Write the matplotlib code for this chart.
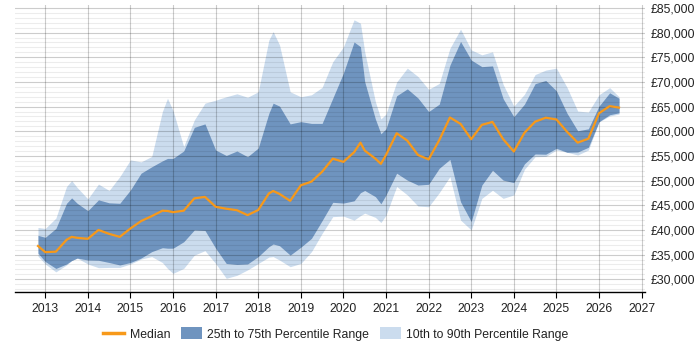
import matplotlib
matplotlib.use("Agg")
import matplotlib.pyplot as plt
from matplotlib.lines import Line2D
from matplotlib.patches import Patch
from matplotlib.ticker import MultipleLocator, FuncFormatter

plt.rcParams['font.family'] = ['Liberation Sans', 'DejaVu Sans']

years = [2012.83, 2013.0, 2013.25, 2013.5, 2013.62, 2013.75, 2014.0, 2014.25, 2014.5, 2014.75,
         2015.0, 2015.25, 2015.5, 2015.75, 2015.87, 2016.0, 2016.25, 2016.5, 2016.75,
         2017.0, 2017.25, 2017.5, 2017.75, 2018.0, 2018.25, 2018.35, 2018.5, 2018.75,
         2019.0, 2019.25, 2019.5, 2019.75, 2020.0, 2020.25, 2020.4, 2020.5, 2020.75, 2020.88,
         2021.0, 2021.25, 2021.5, 2021.75, 2022.0, 2022.25, 2022.5, 2022.75,
         2023.0, 2023.25, 2023.5, 2023.75, 2024.0, 2024.25, 2024.5, 2024.75,
         2025.0, 2025.25, 2025.5, 2025.75, 2026.0, 2026.25, 2026.47]

p90 = [40.5, 40.3, 42.4, 48.8, 50.0, 48.6, 46.3, 49.3, 48.0, 50.8,
       54.2, 53.8, 54.9, 64.0, 66.7, 64.2, 56.9, 62.3, 65.7,
       66.3, 67.0, 67.6, 66.9, 68.0, 78.5, 80.2, 77.5, 68.0,
       67.0, 67.4, 68.9, 74.1, 77.1, 82.6, 81.9, 76.1, 66.0, 62.5,
       63.5, 70.0, 72.8, 71.1, 68.5, 69.7, 76.8, 80.7,
       76.5, 75.5, 76.1, 69.5, 65.1, 67.5, 71.5, 72.4,
       72.8, 68.9, 64.1, 63.9, 67.4, 68.85, 67.0]

p75 = [38.9, 38.5, 40.3, 45.4, 46.5, 45.4, 43.9, 46.1, 45.5, 45.4,
       48.1, 51.5, 52.8, 54.0, 54.5, 54.5, 56.0, 60.8, 61.5,
       56.2, 55.1, 56.0, 54.85, 56.6, 63.65, 65.7, 65.1, 61.5,
       61.95, 61.6, 61.6, 66.7, 71.8, 78.1, 77.15, 70.05, 62.5, 59.5,
       60.5, 67.2, 68.6, 66.75, 64.0, 65.5, 73.4, 78.2,
       74.45, 73.1, 73.25, 66.6, 62.95, 65.5, 69.65, 70.3,
       68.2, 63.65, 60.1, 60.5, 65.1, 67.8, 66.7]

median = [36.75, 35.5, 35.6, 38.0, 38.6, 38.4, 38.2, 40.0, 39.2, 38.6,
          40.3, 41.8, 42.8, 43.9, 43.85, 43.6, 43.9, 46.4, 46.7,
          44.7, 44.3, 44.0, 43.0, 44.05, 47.4, 47.9, 47.3, 45.9,
          49.05, 49.8, 51.8, 54.45, 53.8, 55.75, 57.7, 56.1, 54.45, 53.4,
          55.2, 59.6, 58.1, 55.2, 54.3, 58.2, 62.8, 61.5,
          58.4, 61.3, 61.9, 58.4, 55.9, 59.7, 61.95, 62.75,
          62.4, 59.9, 57.7, 58.5, 63.65, 65.1, 64.8]

p25 = [35.3, 33.6, 32.2, 33.1, 33.8, 34.3, 33.9, 33.85, 33.4, 32.9,
       33.4, 34.3, 35.6, 36.4, 36.3, 36.3, 37.6, 40.0, 39.9,
       36.3, 33.2, 33.0, 33.1, 34.6, 36.6, 37.15, 36.8, 34.9,
       36.5, 38.3, 41.9, 45.6, 45.45, 45.9, 47.55, 48.0, 46.75, 45.3,
       47.1, 51.5, 50.1, 49.1, 49.25, 52.5, 54.3, 45.7,
       41.7, 49.1, 52.1, 50.1, 49.6, 53.4, 55.4, 55.35,
       56.55, 55.75, 55.8, 56.75, 61.95, 63.35, 63.75]

p10 = [34.7, 33.1, 31.5, 32.9, 33.8, 34.3, 33.1, 32.35, 32.4, 32.4,
       33.1, 34.1, 34.6, 33.4, 32.2, 31.2, 32.2, 34.9, 35.8,
       33.2, 30.2, 30.8, 31.9, 33.2, 34.5, 34.6, 33.9, 32.55,
       33.2, 35.6, 39.3, 42.7, 42.8, 42.0, 42.9, 43.4, 42.55, 41.5,
       43.0, 48.8, 47.1, 44.85, 44.7, 47.55, 50.8, 42.0,
       40.0, 46.4, 48.05, 46.4, 47.1, 52.3, 54.85, 54.9,
       56.2, 55.75, 55.2, 56.2, 61.9, 63.1, 63.5]

x_ticks = list(range(2013, 2028))

to_gbp = lambda seq: [v * 1000 for v in seq]

fig = plt.figure(figsize=(7, 3.5), dpi=100)
ax = fig.add_axes([15 / 700, 1 - 292.3 / 350, 630 / 700, 287.3 / 350])

light = '#cbdcee'
dark = '#6f94bf'
orange = '#f7991a'

ax.fill_between(years, to_gbp(p10), to_gbp(p90), color=light, lw=0, zorder=1)
ax.fill_between(years, to_gbp(p25), to_gbp(p75), color=dark, lw=0, zorder=2)
ax.plot(years, to_gbp(median), color=orange, lw=1.6, zorder=4)

ax.set_xlim(2012.29, 2027.08)
ax.set_ylim(27360, 85600)

ax.set_xticks(x_ticks)
ax.set_xticklabels([str(y) for y in x_ticks])
ax.yaxis.set_major_locator(MultipleLocator(5000))
ax.yaxis.set_minor_locator(MultipleLocator(1000))
ax.yaxis.set_major_formatter(FuncFormatter(lambda v, p: '£{:,.0f}'.format(v)))
ax.yaxis.tick_right()

ax.grid(True, which='major', axis='both', color='black', alpha=0.2, lw=0.8, zorder=3)
ax.grid(True, which='minor', axis='y', color='black', alpha=0.075, lw=0.8, zorder=3)
ax.set_axisbelow(False)

for s in ['left', 'right', 'top']:
    ax.spines[s].set_visible(False)
ax.spines['bottom'].set_color('black')
ax.spines['bottom'].set_linewidth(1.0)
ax.spines['bottom'].set_zorder(5)

ax.tick_params(axis='x', which='major', length=4, width=0.8, color='black',
               labelsize=8.7, pad=4, labelcolor='#222222')
ax.tick_params(axis='y', which='both', length=0, labelsize=8.7, pad=4,
               labelcolor='#222222')

handles = [Line2D([0], [0], color=orange, lw=2.5),
           Patch(facecolor=dark, edgecolor='none'),
           Patch(facecolor=light, edgecolor='none')]
labels = ['Median', '25th to 75th Percentile Range', '10th to 90th Percentile Range']
fig.legend(handles, labels, loc='center', bbox_to_anchor=(0.48, 1 - 334 / 350),
           ncol=3, frameon=False, fontsize=8.8, handlelength=1.7, handleheight=1.1,
           handletextpad=0.45, columnspacing=0.9, labelcolor='#222222')

fig.savefig('out.png', dpi=100)
